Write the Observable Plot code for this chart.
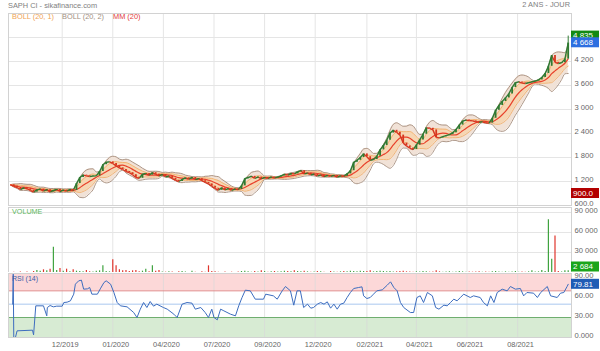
<!DOCTYPE html>
<html><head><meta charset="utf-8">
<script src="https://cdn.jsdelivr.net/npm/d3@7"></script>
<script src="https://cdn.jsdelivr.net/npm/@observablehq/plot@0.6"></script>
<style>
body{margin:0;background:#fff;font-family:"Liberation Sans",Arial,sans-serif;}
#wrap{position:relative;width:600px;height:351px;overflow:hidden;background:#fff;}
.pan{position:absolute;left:0;}
.t{position:absolute;white-space:nowrap;font-family:"Liberation Sans",Arial,sans-serif;z-index:5;}
</style></head><body>
<div id="wrap">
  <div class="pan" id="pMain" style="top:0px"></div>
  <div class="pan" id="pVol" style="top:206px"></div>
  <div class="pan" id="pRsi" style="top:272px"></div>
  <div class="t" style="left:8px;top:2px;font-size:7.4px;line-height:8px;color:#808080">SAPH CI - sikafinance.com</div>
  <div class="t" style="right:30px;top:1px;font-size:7.4px;line-height:8px;color:#808080">2 ANS - JOUR</div>
  <div class="t" style="left:12px;top:13px;font-size:7.4px;line-height:8px;color:#f0a355">BOLL (20, 1)</div>
  <div class="t" style="left:62px;top:13px;font-size:7.4px;line-height:8px;color:#a3907f">BOLL (20, 2)</div>
  <div class="t" style="left:113px;top:13px;font-size:7.4px;line-height:8px;color:#e23a3a">MM (20)</div>
  <div class="t" style="left:12px;top:208px;font-size:7.2px;line-height:8px;color:#5cb85c">VOLUME</div>
  <div class="t" style="left:12px;top:275px;font-size:7px;line-height:8px;color:#3b5ea8">RSI (14)</div>
</div>
<script>
// ---- data (one sample every 3 trading sessions) ----
const closes = [1118,1080,1050,1000,1040,1020,980,935,990,1010,960,995,940,975,1000,950,985,960,1000,975,
1150,1300,1360,1340,1325,1335,1340,1450,1620,1680,1690,1650,1590,1540,1500,1450,1420,1370,1300,1280,
1380,1400,1360,1420,1380,1340,1370,1320,1330,1280,1230,1200,1250,1290,1260,1300,1250,1270,1220,1180,
1140,1080,1030,980,1040,990,1020,980,1010,1000,1090,1270,1300,1330,1280,1310,1270,1300,1280,1310,
1290,1310,1340,1380,1360,1400,1390,1440,1470,1390,1410,1370,1380,1340,1360,1320,1350,1330,1350,1310,
1340,1330,1390,1470,1680,1730,1800,1890,1820,1730,1750,1830,1990,2100,2230,2410,2480,2430,2360,2160,
2090,2030,2000,2110,2240,2380,2540,2530,2490,2300,2290,2320,2345,2370,2420,2500,2610,2710,2735,2725,
2715,2695,2680,2690,2665,2660,2780,2980,3100,3200,3290,3390,3550,3670,3690,3660,3650,3670,3690,3710,
3740,3800,3900,4080,4350,4180,4150,4170,4260,4668];
const volumes = [0,500,0,800,0,600,0,1500,
3000,2000,4000,2500,5000,38000,3000,6000,2000,5000,1000,4000,
2000,1500,1000,3000,1000,800,2000,2500,10000,1500,1000,
19000,10000,4000,2500,3000,1500,2500,3000,1000,
2000,5000,1000,10000,2000,3000,800,500,1000,600,
0,1000,1500,800,0,2000,500,0,1000,500,
10000,1500,1000,500,0,800,0,500,0,700,
1500,2000,1000,500,1500,800,2500,1500,500,1000,
1500,800,1000,2000,1500,1000,2500,1500,1000,2000,
1000,500,800,1500,1000,500,0,1500,800,500,
1000,1500,1000,2000,1500,1000,2000,1500,1500,2500,
1000,1500,2000,1500,1000,1500,800,1000,1500,2000,
1000,800,500,1000,800,1500,1000,500,800,2500,
1000,500,800,1000,500,800,1500,1000,500,800,
500,800,1000,500,800,500,1000,1500,800,500,
1000,500,800,1500,500,800,500,1000,2500,800,
1000,3000,1500,79000,20000,54600,1500,800,2500,2684];
const rsiSession = [2,2.5,3,4.5,6,20,21,23,30,33,33.5,36,39,42,47,48.5,51.5,54.5,57.5,59,62,64.5,66.5,70,72,74,79,82,85,87,91,94,97,100,106,112,115,118,121,124,127,130,133,139,142.5,148.5,151.5,156,160.5,165,168,173,177,180,183,185,188,191,194,200,204.5,207.5,210.5,213.5,218,222.5,230,232,239,242.5,247,250,254.5,257.5,260.5,263.5,266.5,270,273,275.5,279,282,285,288,291,294,297,300,303,306,309,312,316.5,319.5,321,324,327,330,333,338,342.5,345.5,348.5,351.5,354.5,357.5,363.5,366.5,369.5,372.5,375.5,379,383.5,386.5,389.5,394,397,400,403,406,409,412,415,418,421,427,430,433.5,436.5,439.5,442.5,447,451.5,454.5,459,463.5,466.5,469.5,475.5,479,482,488,491,497,500,503,506,507];
const rsiValues = [50,95,0,0,10,11,4,47.5,47.5,32.5,45,48,46,47,47,52.5,53,55,65,80,85,86,72.5,73,75,65,65,74,82.5,85,80,67.5,52.5,47.5,46,37.5,30,42.5,52.5,45,54,47,50,45,42.5,35,30,50,52.5,51.5,42.5,45,37.5,30,42.5,30,26.5,42.5,40,35,32.5,47.5,60,71,70,57.5,57.5,65,62.5,57.5,70,76.5,70,48.5,70,70,45,50,44,45,50,52.5,50,53.5,44,50,42.5,50,51.5,60,67.5,73.5,75,76,62.5,58.5,60,65,70,71.5,78.5,83.5,75,70,52.5,45,37.5,37.5,60,62.5,52.5,67.5,62.5,45,42.5,48.5,47.5,52.5,57.5,55,60,65,62.5,60,62.5,60,52.5,47.5,62.5,52.5,67.5,72.5,70,76.5,72.5,73.5,62.5,67.5,66.5,60,67.5,76.5,62.5,60,66.5,67.5,76.5,79.81];
const tickSessions = [47,93,139,185,231,277,324,369,415,461];
const tickLabels = ["12/2019","01/2020","04/2020","07/2020","09/2020","12/2020","02/2021","04/2021","06/2021","08/2021"];
const priceTicks = [600,1200,1800,2400,3000,3600,4200,4800];
const volumeTicks = [30000,60000,90000];
const rsiTicks = [0,30,60,90];
const lastHigh = 4835, lastClose = 4668, lowMarker = 900, lastVolume = 2684, lastRsi = 79.81;
const STEP = 3;          // sessions per sample
const WIN = 7;           // 7 samples ~ 20 sessions

// ---- derived table ----
const rows = closes.map((c, i) => ({s: i * STEP, ps: i ? (i - 1) * STEP : 0, close: c, open: i ? closes[i - 1] : c, volume: volumes[i]}));
rows.forEach((r, i) => {
  const w = closes.slice(Math.max(0, i - WIN + 1), i + 1);
  const m = d3.mean(w);
  const sd = Math.sqrt(d3.mean(w, v => (v - m) ** 2));
  r.mm = m; r.u1 = m + sd; r.l1 = m - sd; r.u2 = m + 2 * sd; r.l2 = m - 2 * sd;
  r.up = r.close >= r.open;
});
const rsiRows = rsiSession.map((s, i) => ({s, v: rsiValues[i]}));
const labelMap = new Map(tickSessions.map((s, i) => [s, tickLabels[i]]));
const fmtSp = d3.formatLocale({decimal: ".", thousands: " ", grouping: [3], currency: ["", ""]}).format(",d");

const xDom = [-1.8, 510];
const FONT = "Liberation Sans, Arial, sans-serif";
const GREEN = "#2f7a32", RED = "#d8361f", GRID = "#e5e5e5", FRAME = "#d2d2d2";
const common = {width: 600, marginLeft: 8, marginRight: 29,
  style: {fontFamily: FONT, fontSize: "7.6px", color: "#666", background: "transparent"}};

function tag(svg, plot, value, label, bg, yMin, yMax) {
  let y = plot.scale("y").apply(value);
  y = Math.max(yMin, Math.min(yMax, y));
  const g = d3.select(svg).append("g");
  g.append("rect").attr("x", 571).attr("y", y - 5).attr("width", 28).attr("height", 10).attr("fill", bg);
  g.append("text").attr("x", 573).attr("y", y).attr("dy", "0.35em").attr("fill", "#fff")
    .attr("text-anchor", "start").attr("font-size", 8).attr("font-family", FONT).text(label);
}

// ---- main price panel ----
const main = Plot.plot({...common, height: 206, marginTop: 13, marginBottom: 1,
  x: {domain: xDom, axis: null},
  y: {domain: [600, 5400], axis: null},
  marks: [
    Plot.gridY(priceTicks, {stroke: GRID, strokeOpacity: 1}),
    Plot.gridX(tickSessions, {stroke: GRID, strokeOpacity: 1}),
    Plot.areaY(rows, {x: "s", y1: "l2", y2: "u2", fill: "#f1e2d7", curve: "monotone-x"}),
    Plot.areaY(rows, {x: "s", y1: "l1", y2: "u1", fill: "#f6d6b3", curve: "monotone-x"}),
    Plot.line(rows, {x: "s", y: "u2", stroke: "#a58c7c", strokeWidth: 0.9, curve: "monotone-x"}),
    Plot.line(rows, {x: "s", y: "l2", stroke: "#a58c7c", strokeWidth: 0.9, curve: "monotone-x"}),
    Plot.line(rows, {x: "s", y: "u1", stroke: "#f2b06c", strokeWidth: 0.9, curve: "monotone-x"}),
    Plot.line(rows, {x: "s", y: "l1", stroke: "#f2b06c", strokeWidth: 0.9, curve: "monotone-x"}),
    Plot.line(rows, {x: "s", y: "mm", stroke: "#e8412b", strokeWidth: 1.2, curve: "monotone-x"}),
    Plot.ruleX(rows.slice(-1), {x: "s", y1: "close", y2: () => lastHigh, stroke: GREEN, strokeWidth: 1}),
    Plot.link(rows, {x1: "ps", y1: "open", x2: "s", y2: "close", stroke: d => d.up ? GREEN : RED, strokeWidth: 1.4}),
    Plot.ruleX(rows, {x: "s", y1: "open", y2: "close", stroke: d => d.up ? GREEN : RED, strokeWidth: 1.8}),
    Plot.frame({stroke: FRAME}),
    Plot.axisY(priceTicks, {anchor: "right", tickSize: 0, tickPadding: 3, dy: -2, label: null, fontSize: 7.6,
      tickFormat: v => v === 600 ? "600.0" : fmtSp(v)})
  ]
});
document.getElementById("pMain").appendChild(main);
tag(main, main, lastHigh, fmtSp(lastHigh), "#138a13", 19, 200);
tag(main, main, lastClose, fmtSp(lastClose), "#2e6fe0", 19, 200);
tag(main, main, lowMarker, "900.0", "#b20000", 19, 200);

// ---- volume panel ----
const vol = Plot.plot({...common, height: 66, marginTop: 1, marginBottom: 0,
  x: {domain: xDom, axis: null},
  y: {domain: [0, 97500], axis: null},
  marks: [
    Plot.gridY(volumeTicks, {stroke: GRID, strokeOpacity: 1}),
    Plot.gridX(tickSessions, {stroke: GRID, strokeOpacity: 1}),
    Plot.ruleX(rows, {x: "s", y: "volume", stroke: d => d.up ? "#3fa33f" : "#e0342c", strokeWidth: 1.2}),
    Plot.frame({stroke: FRAME}),
    Plot.axisY(volumeTicks, {anchor: "right", tickSize: 0, tickPadding: 3, dy: -2, label: null, fontSize: 7.6, tickFormat: fmtSp})
  ]
});
document.getElementById("pVol").appendChild(vol);
tag(vol, vol, lastVolume, fmtSp(lastVolume), "#1ba51b", 7, 60.5);

// ---- RSI panel ----
const zones = [{lo: 70, hi: 96, fill: "#fcd8d8"}, {lo: 0, hi: 30, fill: "#d7ebd3"}];
const levels = [{v: 70, c: "#e08a8a"}, {v: 50, c: "#a9c7ef"}, {v: 30, c: "#6fae6f"}];
const rsi = Plot.plot({...common, height: 79, marginTop: 1, marginBottom: 14,
  x: {domain: xDom, axis: null},
  y: {domain: [0, 96], axis: null},
  marks: [
    Plot.rect(zones, {x1: xDom[0], x2: xDom[1], y1: "lo", y2: "hi", fill: "fill"}),
    Plot.gridX(tickSessions, {stroke: "#d9d9d9", strokeOpacity: 0.7}),
    Plot.ruleY(levels, {y: "v", stroke: "c", strokeWidth: 1}),
    Plot.line(rsiRows, {x: "s", y: "v", stroke: "#3d6dbf", strokeWidth: 1}),
    Plot.frame({stroke: FRAME}),
    Plot.axisY(rsiTicks, {anchor: "right", tickSize: 0, tickPadding: 3, dy: -2, label: null, fontSize: 7.6,
      tickFormat: v => v === 0 ? "0.000" : v.toFixed(2)}),
    Plot.axisX(tickSessions, {anchor: "bottom", tickSize: 0, tickPadding: 4, dx: 3, label: null, fontSize: 7.4,
      tickFormat: d => labelMap.get(d)})
  ]
});
document.getElementById("pRsi").appendChild(rsi);
tag(rsi, rsi, lastRsi, lastRsi.toFixed(2), "#1f5cb5", 7, 60);
</script>
</body></html>
